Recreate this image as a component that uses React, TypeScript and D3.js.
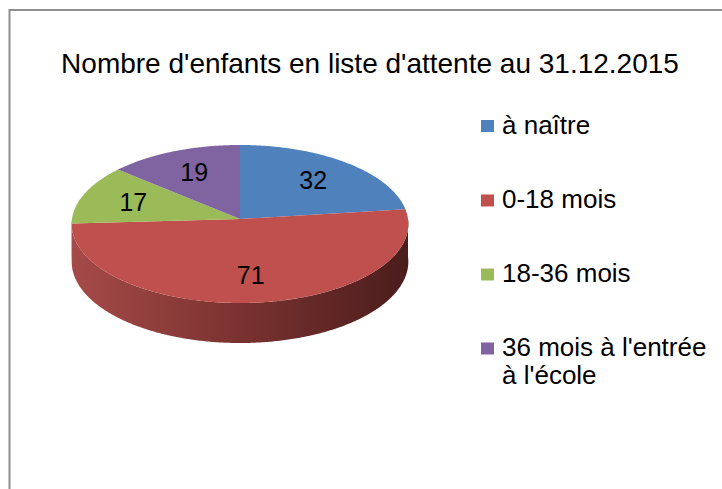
import React from 'react';
import * as d3 from 'd3';

const title = "Nombre d'enfants en liste d'attente au 31.12.2015";
const categories = ['à naître', '0-18 mois', '18-36 mois', "36 mois à l'entrée à l'école"];
const values = [32, 71, 17, 19];
const colors = ['#4F81BD', '#C0504D', '#9BBB59', '#8064A2'];
const sideColors = [
  ['#3f6a9c', '#2a4668', '#1c2f46'],
  ['#a54a48', '#7a3230', '#4a1d1c'],
  ['#82a04a', '#5e7536', '#3f4e24'],
  ['#6a5288', '#4d3b63', '#342842'],
];
const legendLines = [['à naître'], ['0-18 mois'], ['18-36 mois'], ["36 mois à l'entrée", "à l'école"]];

const W = 722;
const H = 489;
const cx = 240;
const cy = 219;
const rx = 168;
const ry = 78.7;
const depth = 37.5;
const k = 0.063;
const FONT = "'Liberation Sans', Arial, sans-serif";

function project(r: number, a: number, h: number): [number, number] {
  const s = 1 / (1 + k * r * Math.cos(a));
  return [cx + rx * r * Math.sin(a) * s, cy - ry * r * Math.cos(a) * s + depth * h * s];
}

function sample(a0: number, a1: number): number[] {
  const n = Math.max(2, Math.ceil(Math.abs(a1 - a0) / 0.01));
  return d3.range(n + 1).map((i) => a0 + ((a1 - a0) * i) / n);
}

export default function App() {
  const arcs = d3.pie<number>().sort(null).value((d) => d)(values);
  const line = d3.line<[number, number]>().x((p) => p[0]).y((p) => p[1]);

  const tops = arcs.map((a) => {
    const pts: [number, number][] = [project(0, 0, 0), ...sample(a.startAngle, a.endAngle).map((t) => project(1, t, 0))];
    return line(pts) + 'Z';
  });

  const sides = arcs.map((a, i) => {
    const a0 = Math.max(a.startAngle, Math.PI / 2);
    const a1 = Math.min(a.endAngle, (3 * Math.PI) / 2);
    if (a0 >= a1) return null;
    const angs = sample(a0, a1);
    const pts: [number, number][] = [
      ...angs.map((t) => project(1, t, 0)),
      ...angs.slice().reverse().map((t) => project(1, t, 1)),
    ];
    return { d: line(pts) + 'Z', i };
  });

  const labels = arcs.map((a) => {
    const mid = (a.startAngle + a.endAngle) / 2;
    return project(0.68, mid, 0);
  });

  const legendX = 481;
  const legendRows = [133.5, 208, 282, 356];

  return (
    <svg width={W} height={H} style={{ position: 'absolute', left: 0, top: 0, background: '#fff' }}>
      <defs>
        {sideColors.map((c, i) => (
          <linearGradient key={i} id={`side${i}`} gradientUnits="userSpaceOnUse" x1={cx - rx} x2={cx + rx} y1={0} y2={0}>
            <stop offset="0" stopColor={c[0]} />
            <stop offset="0.5" stopColor={c[1]} />
            <stop offset="1" stopColor={c[2]} />
          </linearGradient>
        ))}
      </defs>
      <rect x={0} y={0} width={W} height={H} fill="#fff" />
      <path d={`M9.5,${H} V10 H${W}`} fill="none" stroke="#8e8e8e" strokeWidth={2} />
      <text x={370} y={73} textAnchor="middle" fontFamily={FONT} fontSize={28} fill="#000">
        {title}
      </text>
      {sides.map((s) => (s ? <path key={`s${s.i}`} d={s.d} fill={`url(#side${s.i})`} /> : null))}
      {tops.map((d, i) => (
        <path key={`t${i}`} d={d} fill={colors[i]} />
      ))}
      {labels.map((p, i) => (
        <text key={`l${i}`} x={p[0]} y={p[1] + 9} textAnchor="middle" fontFamily={FONT} fontSize={25} fill="#000">
          {values[i]}
        </text>
      ))}
      {categories.map((c, i) => (
        <g key={`g${i}`}>
          <rect x={legendX} y={legendRows[i] - 13.5} width={13} height={12} fill={colors[i]} />
          {legendLines[i].map((ln, j) => (
            <text key={j} x={502} y={legendRows[i] + j * 28} fontFamily={FONT} fontSize={26} fill="#000">
              {ln}
            </text>
          ))}
        </g>
      ))}
    </svg>
  );
}
